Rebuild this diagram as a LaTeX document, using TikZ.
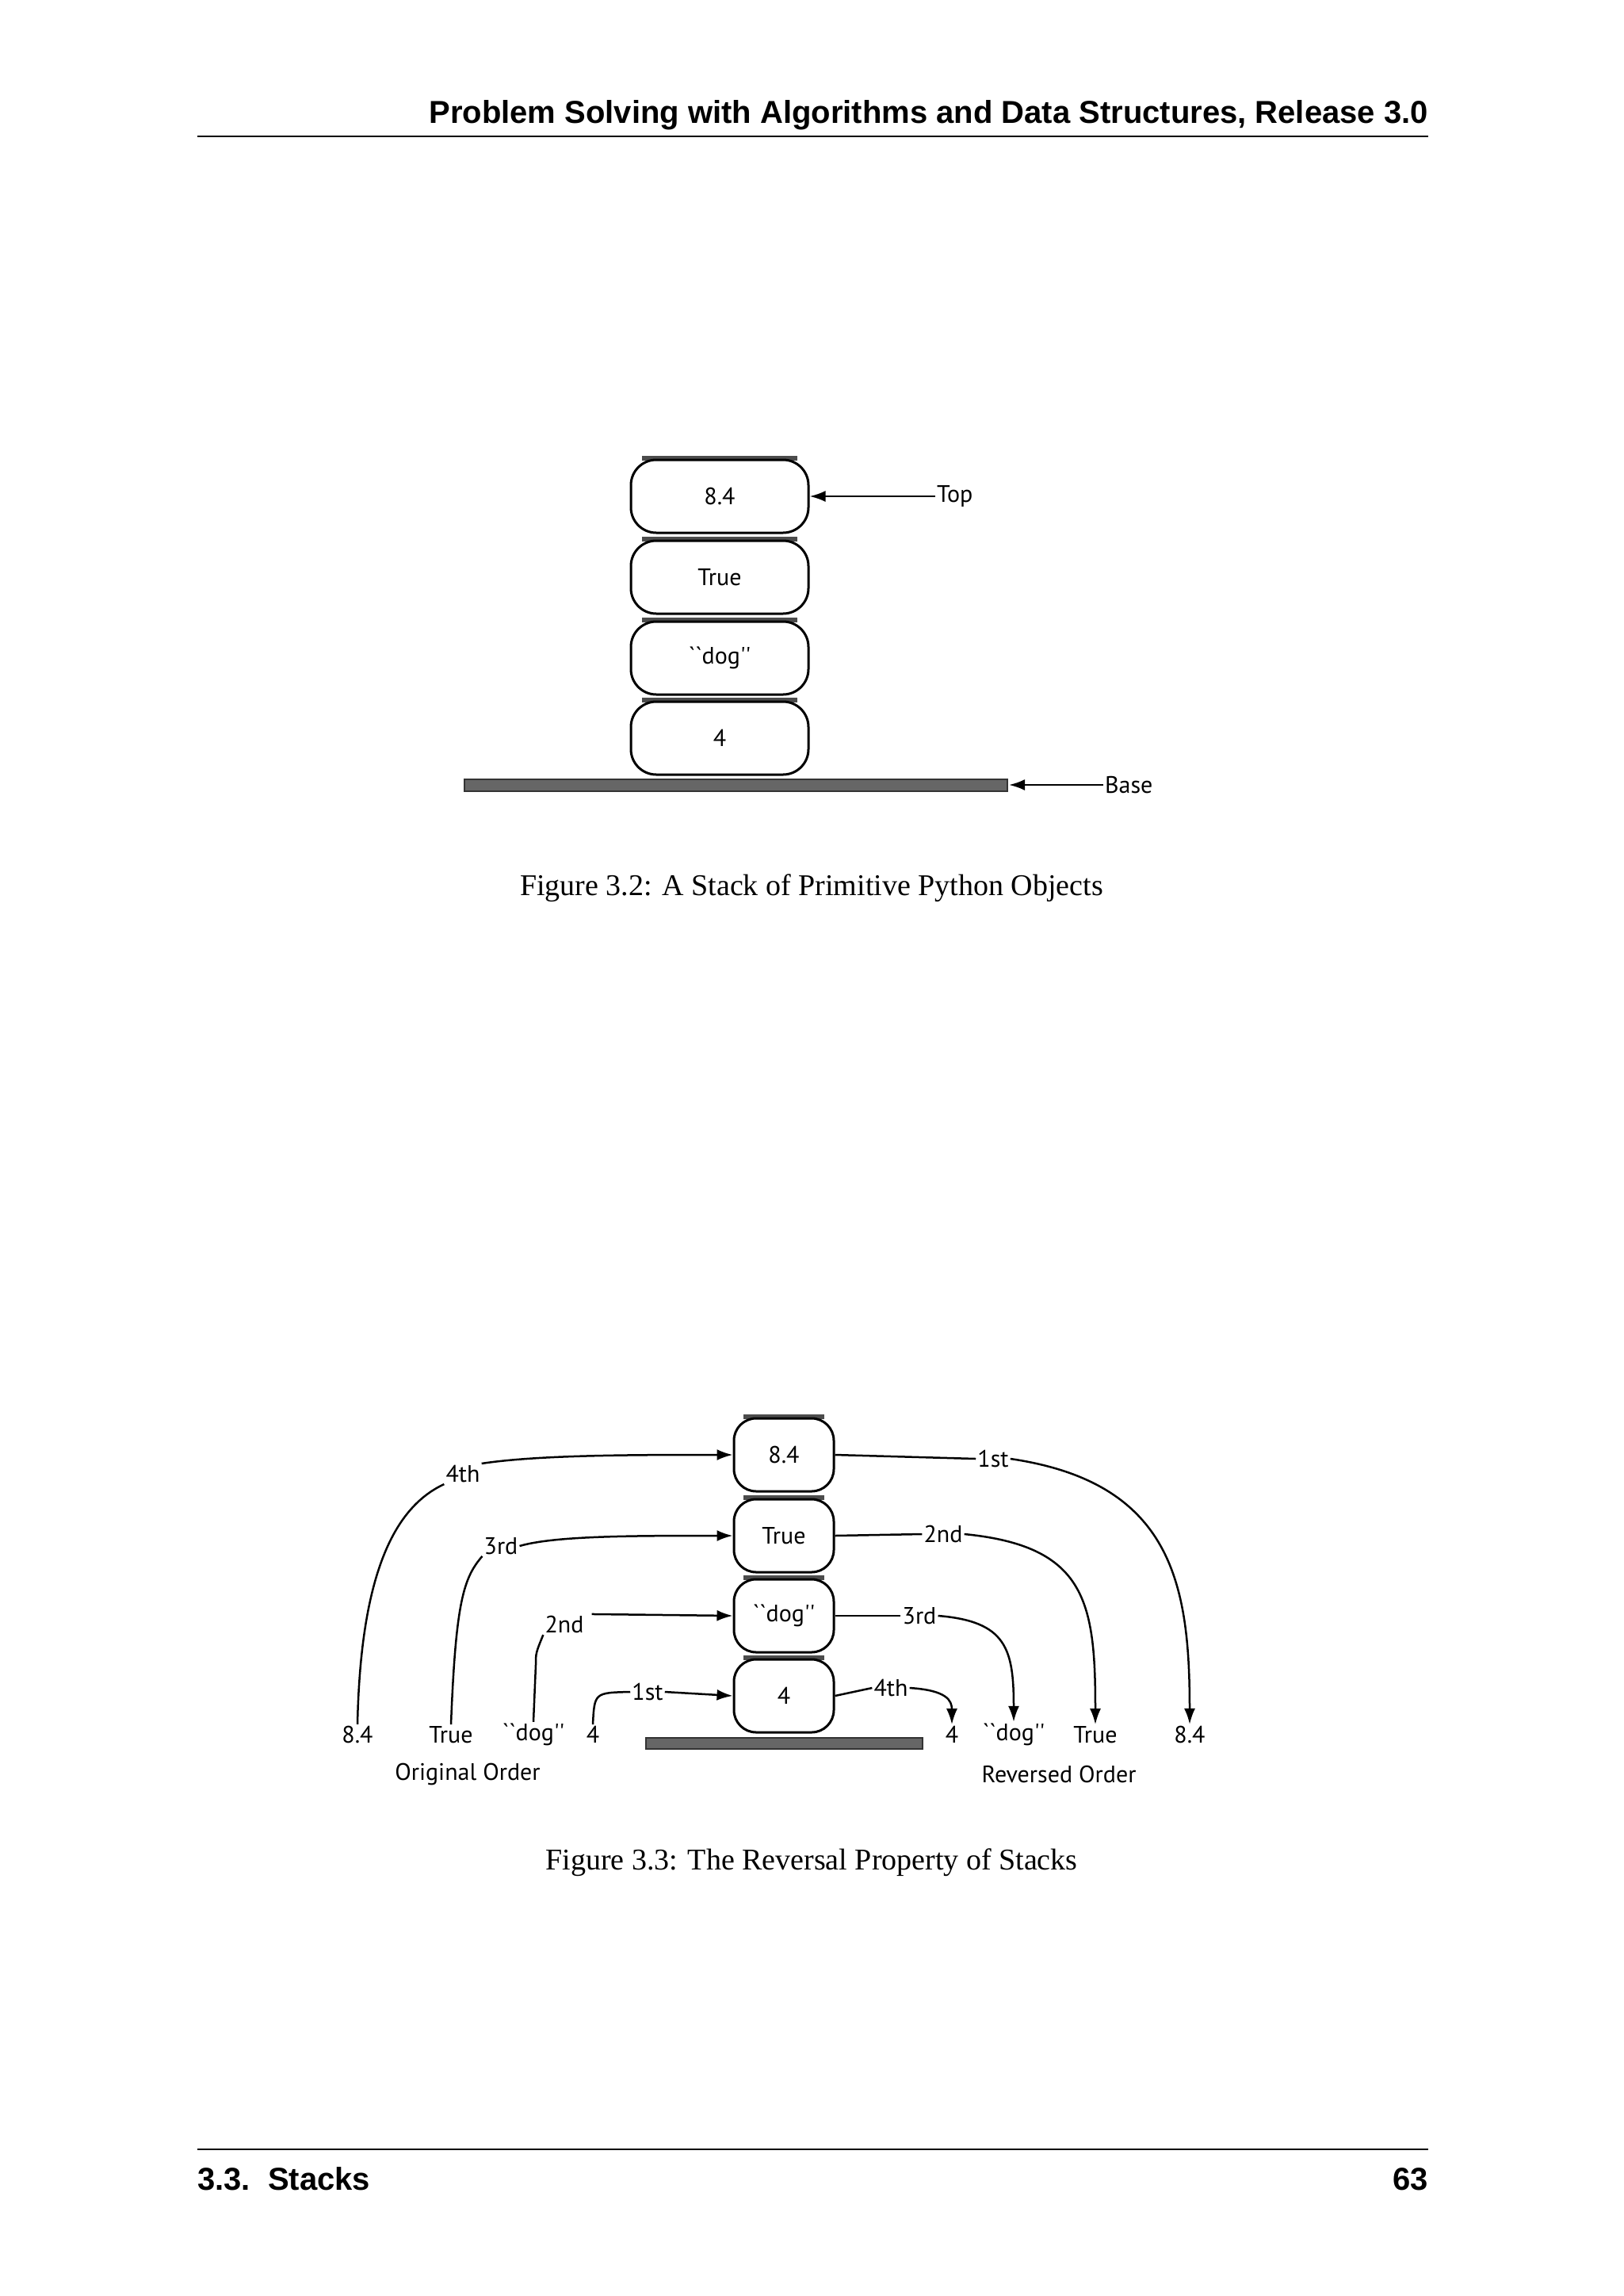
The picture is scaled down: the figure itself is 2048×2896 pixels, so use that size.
\documentclass[tikz,border=0pt]{standalone}
\usepackage{fontspec}
\setmainfont{Liberation Serif}
\newfontfamily\hdr{Liberation Sans}
\newfontfamily\lbl{PT Sans}
\usetikzlibrary{arrows.meta}
\begin{document}
\begin{tikzpicture}[x=1pt,y=-1pt,
  item/.style={draw=black,line width=3pt,fill=white,rounded corners=32pt,minimum height=92pt,inner sep=0pt,font=\lbl\fontsize{30}{34}\selectfont},
  lab/.style={font=\lbl\fontsize{30}{34}\selectfont,inner sep=2pt},
  figcap/.style={font=\fontsize{38}{44}\selectfont},
  con/.style={line width=2.5pt},
  arr/.style={line width=2.5pt,-{Latex[length=20pt,width=14pt]}},
  basebar/.style={draw=black!80,fill=black!60,line width=2pt}]
\useasboundingbox (0,0) rectangle (2048,2896);
% header / footer
\node[font=\hdr\bfseries\fontsize{40}{46}\selectfont,anchor=base east,inner sep=0] (hd) at (1802,155) {Problem Solving with Algorithms and Data Structures, Release 3.0};
\draw[line width=1.5pt] (249,172) -- (1802,172);
\draw[line width=1.5pt] (249,2711) -- (1802,2711);
\node[font=\hdr\bfseries\fontsize{40}{46}\selectfont,anchor=base west,inner sep=0] (ft) at (249,2762) {3.3.\ \ Stacks};
\node[font=\hdr\bfseries\fontsize{40}{46}\selectfont,anchor=base east,inner sep=0] (pg) at (1802,2762) {63};
% Figure 3.2
\foreach \n/\t/\y in {a/8.4/626,b/True/728,c/{``dog''}/830,d/4/931}{
  \draw[black!70,line width=6pt] (810,\y-48) -- (1006,\y-48);
  \node[item,minimum width=224pt] (\n) at (908,\y) {\t};
}
\draw[basebar] (586,983) rectangle (1271,998);
\coordinate (bar1) at (1273,990);
\node[lab,anchor=west] (top) at (1180,626) {Top};
\draw[arr] (top.west) -- (a.east);
\node[lab,anchor=west] (base) at (1392,990) {Base};
\draw[arr] (base.west) -- (bar1);
\node[figcap] (cap1) at (1024,1120) {Figure 3.2: A Stack of Primitive Python Objects};
% Figure 3.3
\foreach \n/\t/\y in {p/8.4/1835,q/True/1937,r/{``dog''}/2038,s/4/2139}{
  \draw[black!70,line width=6pt] (938,\y-48) -- (1040,\y-48);
  \node[item,minimum width=126pt,rounded corners=28pt] (\n) at (989,\y) {\t};
}
\draw[basebar] (815,2192) rectangle (1164,2206);
% bottom labels
\foreach \n/\t/\x in {l1/8.4/451,l2/True/569,l3/{``dog''}/673,l4/4/748,r4/4/1201,r3/{``dog''}/1279,r2/True/1382,r1/8.4/1501}
  \node[lab] (\n) at (\x,2188) {\t};
\node[lab] (oo) at (590,2238) {Original Order};
\node[lab] (ro) at (1336,2238) {Reversed Order};
% left labels
\node[lab] (o4) at (584,1859) {4th};
\node[lab] (o3) at (632,1950) {3rd};
\node[lab] (o2) at (712,2049) {2nd};
\node[lab] (o1) at (817,2134) {1st};
\draw[con] (l1.north) .. controls (455,1980) and (500,1900) .. (o4.south west);
\draw[arr] (o4.north east) .. controls (680,1835) and (800,1835) .. (p.west);
\draw[con] (l2.north) .. controls (575,2020) and (585,1990) .. (o3.south west);
\draw[arr] (o3.east) .. controls (700,1937) and (800,1937) .. (q.west);
\draw[con] (l3.north) -- (676,2100) .. controls (676,2085) .. (o2.south west);
\draw[arr] ([xshift=8pt]o2.north east) -- (r.west);
\draw[con] (l4.north) .. controls (750,2135) .. (o1.west);
\draw[arr] (o1.east) -- (s.west);
% right labels
\node[lab] (n1) at (1253,1840) {1st};
\node[lab] (n2) at (1190,1935) {2nd};
\node[lab] (n3) at (1160,2038) {3rd};
\node[lab] (n4) at (1124,2129) {4th};
\draw[con] (p.east) -- (n1.west);
\draw[arr] (n1.east) .. controls (1480,1870) and (1501,2000) .. (r1.north);
\draw[con] (q.east) -- (n2.west);
\draw[arr] (n2.east) .. controls (1370,1950) and (1382,2020) .. (r2.north);
\draw[con] (r.east) -- (n3.west);
\draw[arr] (n3.east) .. controls (1270,2045) and (1279,2080) .. (r3.north);
\draw[con] (s.east) -- (n4.west);
\draw[arr] (n4.east) .. controls (1195,2132) and (1201,2145) .. (r4.north);
\node[figcap] (cap2) at (1024,2349) {Figure 3.3: The Reversal Property of Stacks};
\end{tikzpicture}
\end{document}
